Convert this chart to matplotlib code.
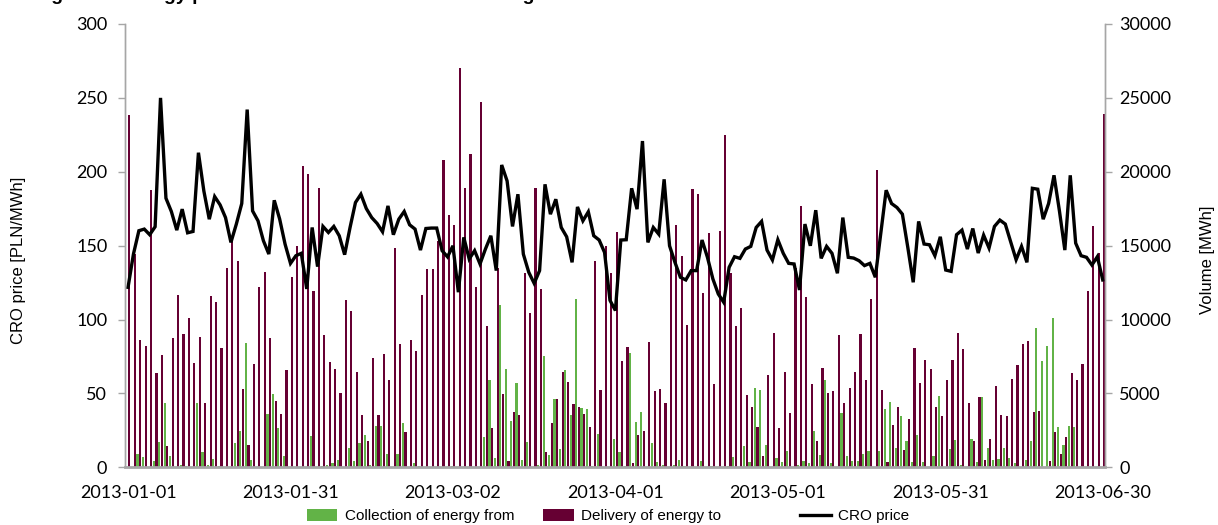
import numpy as np
import pandas as pd
import matplotlib
matplotlib.use("Agg")
import matplotlib.pyplot as plt
from matplotlib.patches import Patch
from matplotlib.lines import Line2D

dates = pd.date_range("2013-01-01", "2013-06-30", freq="D")
tick_labels = ["2013-01-01", "2013-01-31", "2013-03-02", "2013-04-01",
               "2013-05-01", "2013-05-31", "2013-06-30"]

collection = [
    0, 0, 900, 720, 0, 400, 1710, 4340, 760, 0,
    160, 100, 50, 4340, 1030, 160, 560, 110, 0, 0,
    1640, 2470, 8390, 490, 0, 0, 3600, 4970, 2650, 770,
    0, 0, 0, 0, 2110, 0, 90, 130, 270, 490,
    0, 1300, 450, 1660, 2160, 160, 2790, 2810, 900, 0,
    880, 2970, 0, 270, 90, 0, 0, 0, 0, 0,
    90, 0, 0, 0, 0, 0, 2020, 5890, 610, 10950,
    6680, 3120, 5730, 490, 1710, 0, 160, 7510, 810, 4610,
    1260, 6590, 3530, 11400, 3980, 3930, 90, 2250, 0, 0,
    1910, 1030, 90, 7730, 3080, 3710, 0, 1660, 360, 160,
    0, 160, 490, 90, 0, 0, 450, 0, 90, 0,
    0, 90, 670, 0, 1440, 380, 5400, 5260, 1510, 0,
    640, 380, 1080, 0, 160, 430, 270, 2470, 830, 5890,
    270, 0, 3690, 790, 450, 450, 880, 1120, 0, 1100,
    3930, 4430, 1280, 3480, 1800, 380, 2180, 380, 0, 760,
    4830, 0, 1240, 1840, 160, 50, 1890, 380, 4770, 1300,
    490, 560, 1300, 610, 310, 0, 490, 1800, 9420, 7190,
    8210, 10070, 2740, 1510, 2810, 2700, 0, 0, 0, 0,
    0]

delivery = [
    23830, 14430, 8590, 8180, 18790, 6380, 7600, 1460, 8745, 11670,
    8990, 10120, 7040, 8790, 4380, 11580, 11170, 8050, 13510, 15330,
    13980, 5330, 1480, 6970, 12230, 13200, 8745, 4470, 3640, 6610,
    12860, 14990, 20370, 19870, 11910, 18880, 8920, 7130, 6630, 5060,
    11330, 10570, 6450, 3530, 1750, 7420, 3550, 7690, 5930, 14810,
    8360, 2380, 8590, 7870, 11670, 13420, 13420, 15330, 20770, 17080,
    16410, 27000, 18880, 21180, 12230, 24730, 9580, 2630, 13490, 4950,
    450, 3750, 3570, 13130, 10430, 18930, 12050, 1060, 2970, 4650,
    6450, 5780, 4270, 4050, 3600, 2700, 13960, 5260, 14950, 13130,
    15940, 7190, 8140, 310, 2180, 2450, 8450, 5150, 5310, 4320,
    14770, 16410, 14300, 9620, 18860, 18480, 11820, 15830, 5660, 16010,
    22520, 13130, 9550, 10770, 4880, 4090, 2740, 760, 6230, 9080,
    2650, 6450, 3690, 13490, 17690, 11550, 5620, 1800, 6740, 5040,
    5130, 8970, 4380, 5350, 6430, 9040, 5930, 11400, 20100, 5220,
    380, 2850, 4090, 1170, 3300, 8090, 5730, 7240, 6630, 4090,
    3440, 5930, 7240, 9100, 8000, 4320, 1800, 4770, 490, 1890,
    5490, 3530, 3460, 6000, 6950, 8360, 8540, 3750, 3820, 0,
    430, 2360, 900, 2070, 6380, 5910, 6990, 11950, 16350, 14500,
    23940]

cro_price = [
    121.8, 144.3, 160.1, 161.2, 157.4, 162.8, 250.0, 182.1, 173.1, 160.5,
    174.7, 158.7, 159.6, 212.9, 187.0, 167.9, 183.2, 177.6, 169.0, 152.2,
    164.6, 178.5, 242.1, 173.5, 166.8, 153.3, 144.3, 180.7, 168.0, 151.0,
    138.0, 143.2, 144.8, 120.7, 162.3, 135.8, 163.0, 158.9, 163.0, 156.7,
    143.9, 162.3, 179.2, 184.8, 175.1, 169.0, 165.0, 159.4, 176.9, 157.4,
    167.9, 173.1, 164.1, 161.2, 147.0, 161.6, 161.9, 161.9, 146.6, 142.4,
    149.9, 118.5, 155.6, 141.0, 146.6, 137.6, 147.7, 156.7, 133.1, 204.6,
    193.8, 163.0, 184.8, 144.3, 132.0, 124.5, 133.1, 191.5, 171.3, 181.4,
    162.3, 156.0, 138.7, 176.2, 166.8, 172.9, 156.7, 153.8, 145.4, 113.0,
    106.1, 153.8, 154.0, 188.8, 174.7, 220.8, 152.2, 162.3, 157.8, 194.9,
    149.9, 138.7, 128.6, 126.8, 133.1, 133.1, 153.8, 142.1, 127.5, 117.3,
    111.7, 135.3, 142.5, 141.4, 147.7, 149.5, 162.3, 166.4, 147.0, 140.3,
    154.0, 144.8, 138.0, 137.6, 120.0, 164.6, 149.9, 174.0, 141.4, 149.5,
    144.8, 131.3, 169.0, 142.1, 141.6, 139.8, 136.5, 138.0, 128.6, 157.8,
    187.5, 178.5, 175.8, 171.3, 148.8, 125.2, 166.4, 151.1, 150.6, 143.2,
    156.0, 133.5, 132.6, 157.4, 160.5, 147.7, 161.6, 145.0, 157.1, 148.4,
    163.0, 167.3, 164.6, 152.6, 140.5, 149.5, 138.7, 188.8, 188.2, 167.9,
    178.5, 197.6, 173.5, 147.0, 197.6, 151.7, 143.2, 142.1, 136.9, 142.5,
    126.8]

GREEN = "#62b347"
MAROON = "#660033"
GRAY = "#a6a6a6"

fig = plt.figure(figsize=(12.18, 5.25), dpi=100)
ax = fig.add_axes([0.1029, 0.1099, 0.8047, 0.8444])
ax2 = ax.twinx()

x = np.arange(len(dates))
w = 0.4
ax2.bar(x - 0.25, collection, width=w, color=GREEN, linewidth=0)
ax2.bar(x + 0.25, delivery, width=w, color=MAROON, linewidth=0)
ax.plot(x, cro_price, color="black", lw=2.4, solid_joinstyle="miter")

ax.set_zorder(ax2.get_zorder() + 1)
ax.patch.set_visible(False)

ax.set_xlim(-0.5, len(dates) - 0.5)
ax.set_ylim(0, 300)
ax2.set_ylim(0, 30000)
ax.set_yticks(np.arange(0, 301, 50))
ax2.set_yticks(np.arange(0, 30001, 5000))

pos = [list(dates.strftime("%Y-%m-%d")).index(t) for t in tick_labels]
ax.set_xticks(pos)
ax.set_xticklabels(tick_labels)

tick_font = "Lato"
for lab in ax.get_xticklabels() + ax.get_yticklabels() + ax2.get_yticklabels():
    lab.set_fontfamily(tick_font)
    lab.set_fontsize(13)

ax.tick_params(axis="x", length=0, pad=13)
ax.tick_params(axis="y", direction="out", length=5, width=1, color=GRAY, pad=8)
ax2.tick_params(axis="y", direction="out", length=5, width=1, color=GRAY, pad=5)

for a in (ax, ax2):
    a.spines["top"].set_visible(False)
    for s in ("left", "right", "bottom"):
        a.spines[s].set_color(GRAY)
        a.spines[s].set_linewidth(1)
ax.spines["bottom"].set_linewidth(2)
ax2.spines["bottom"].set_visible(False)

fig.text(0.015, 0.505, "CRO price [PLN/MWh]", rotation=90, ha="center", va="center",
         fontsize=12, family="Liberation Sans")
fig.text(0.991, 0.505, "Volume [MWh]", rotation=90, ha="center", va="center",
         fontsize=12, family="Liberation Sans")

fig.text(0.028, 1.0, "Figure 5. Energy prices and volumes on the balancing market",
         ha="left", va="baseline", fontsize=14, fontweight="bold", family="Liberation Sans")

leg_font = {"family": ["Liberation Sans Narrow", "Liberation Sans"], "size": 11}
entries = [
    (Patch(facecolor=GREEN), "Collection of energy from", 0.252),
    (Patch(facecolor=MAROON), "Delivery of energy to", 0.4458),
    (Line2D([], [], color="black", lw=2.4), "CRO price", 0.6568),
]
for h, t, xp in entries:
    lg = fig.legend([h], [t], loc="center left", bbox_to_anchor=(xp, 0.017),
                    frameon=False, borderpad=0, borderaxespad=0, handlelength=2,
                    handleheight=0.8, handletextpad=0.5, prop=leg_font)

fig.savefig("out.png", dpi=100)
